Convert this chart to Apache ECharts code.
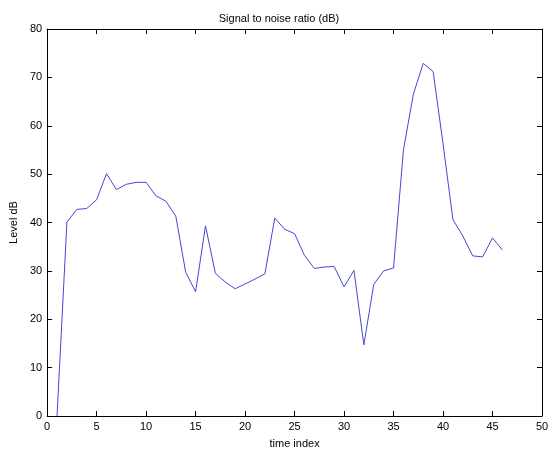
<!DOCTYPE html>
<html>
<head>
<meta charset="utf-8">
<script src="https://cdn.jsdelivr.net/npm/echarts@6/dist/echarts.min.js"></script>
<style>
  html, body { margin: 0; padding: 0; background: #fff; }
  #chart { width: 558px; height: 454px; }
</style>
</head>
<body>
<div id="chart"></div>
<script>
// time index 1..46
const timeIndex = [1, 2, 3, 4, 5, 6, 7, 8, 9, 10, 11, 12, 13, 14, 15, 16, 17, 18, 19, 20, 21, 22, 23,
  24, 25, 26, 27, 28, 29, 30, 31, 32, 33, 34, 35, 36, 37, 38, 39, 40, 41, 42, 43, 44, 45, 46]
const snrLevel = [0, 40.1, 42.7, 42.9, 44.7, 50.1, 46.8, 47.9, 48.3, 48.3, 45.5, 44.4, 41.3, 29.7, 25.7, 39.3, 29.5, 27.7, 26.3,
  27.3, 28.3, 29.4, 40.9, 38.6, 37.7, 33.2, 30.5, 30.8, 30.9, 26.7, 30.1, 14.7, 27.2, 30.0, 30.6, 55.0, 66.5, 72.9, 71.2,
  56.3, 40.6, 37.2, 33.1, 32.9, 36.8, 34.3]

const font = 'Liberation Sans, Arial, sans-serif'
const line = () => ({ show: true, onZero: false, lineStyle: { color: '#000', width: 1 } })
const tick = () => ({ show: true, inside: true, length: 5, lineStyle: { color: '#000', width: 1 } })

const chart = echarts.init(document.getElementById('chart'))
chart.setOption({
  animation: false,
  backgroundColor: '#fff',
  title: {
    text: 'Signal to noise ratio (dB)',
    left: 'center',
    top: 8,
    textStyle: { fontFamily: font, fontSize: 11, fontWeight: 'normal', color: '#000' },
  },
  grid: { left: 46, right: 16, top: 29, bottom: 33 },
  xAxis: [
    {
      type: 'value',
      min: 0, max: 50, interval: 5,
      axisLine: line(), axisTick: tick(), splitLine: { show: false },
      name: 'time index',
      nameLocation: 'middle',
      nameGap: 22,
      nameTextStyle: { fontFamily: font, fontSize: 11, color: '#000' },
      axisLabel: { fontFamily: font, fontSize: 11, color: '#000', margin: 5 },
    },
    {
      type: 'value', position: 'top',
      min: 0, max: 50, interval: 5,
      axisLine: line(), axisTick: tick(), splitLine: { show: false },
      axisLabel: { show: false },
    },
  ],
  yAxis: [
    {
      type: 'value',
      min: 0, max: 80, interval: 10,
      axisLine: line(), axisTick: tick(), splitLine: { show: false },
      name: 'Level dB',
      nameLocation: 'middle',
      nameGap: 25,
      nameTextStyle: { fontFamily: font, fontSize: 11, color: '#000' },
      axisLabel: { fontFamily: font, fontSize: 11, color: '#000', margin: 5 },
    },
    {
      type: 'value', position: 'right',
      min: 0, max: 80, interval: 10,
      axisLine: line(), axisTick: tick(), splitLine: { show: false },
      axisLabel: { show: false },
    },
  ],
  series: [{
    type: 'line',
    symbol: 'none',
    lineStyle: { color: '#4646d6', width: 1 },
    data: timeIndex.map((t, i) => [t, snrLevel[i]]),
  }],
})
</script>
</body>
</html>
